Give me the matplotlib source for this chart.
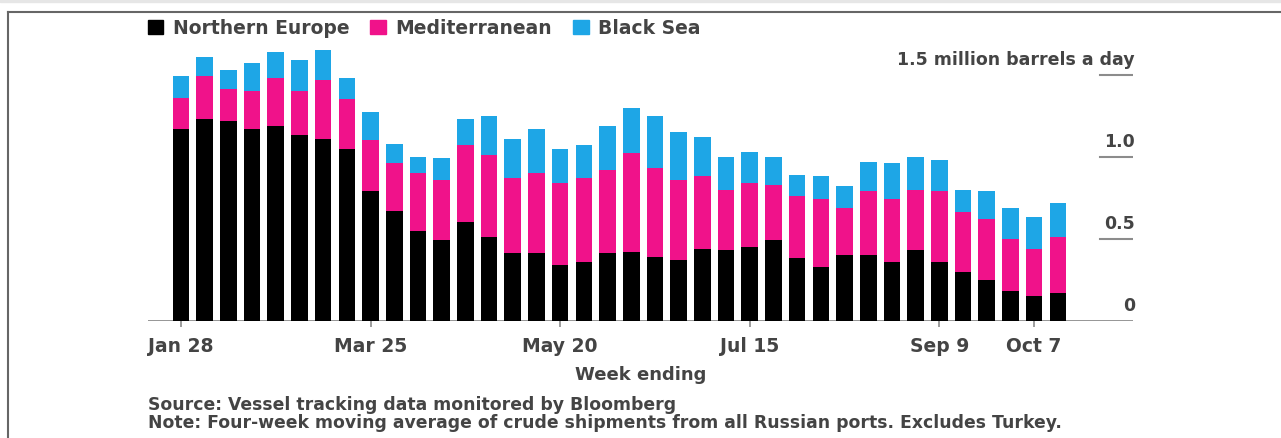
import matplotlib
matplotlib.use("Agg")
import matplotlib.pyplot as plt
from matplotlib.patches import Patch, Rectangle
from matplotlib.lines import Line2D

# week-ending dates (2022), one bar per week
weeks = ["Jan 28", "Feb 4", "Feb 11", "Feb 18", "Feb 25", "Mar 4", "Mar 11", "Mar 18",
         "Mar 25", "Apr 1", "Apr 8", "Apr 15", "Apr 22", "Apr 29", "May 6", "May 13",
         "May 20", "May 27", "Jun 3", "Jun 10", "Jun 17", "Jun 24", "Jul 1", "Jul 8",
         "Jul 15", "Jul 22", "Jul 29", "Aug 5", "Aug 12", "Aug 19", "Aug 26", "Sep 2",
         "Sep 9", "Sep 16", "Sep 23", "Sep 30", "Oct 7", "Oct 14"]

# million barrels a day, four-week moving average
northern_europe = [1.17, 1.23, 1.22, 1.17, 1.19, 1.13, 1.11, 1.05,
                   0.79, 0.67, 0.55, 0.49, 0.60, 0.51, 0.41, 0.41,
                   0.34, 0.36, 0.41, 0.42, 0.39, 0.37, 0.44, 0.43,
                   0.45, 0.49, 0.38, 0.33, 0.40, 0.40, 0.36, 0.43,
                   0.36, 0.30, 0.25, 0.18, 0.15, 0.17]
mediterranean = [0.19, 0.26, 0.19, 0.23, 0.29, 0.27, 0.36, 0.30,
                 0.31, 0.29, 0.35, 0.37, 0.47, 0.50, 0.46, 0.49,
                 0.50, 0.51, 0.51, 0.60, 0.54, 0.49, 0.44, 0.37,
                 0.39, 0.34, 0.38, 0.41, 0.29, 0.39, 0.38, 0.37,
                 0.43, 0.36, 0.37, 0.32, 0.29, 0.34]
black_sea = [0.13, 0.12, 0.12, 0.17, 0.16, 0.19, 0.18, 0.13,
             0.17, 0.12, 0.10, 0.13, 0.16, 0.24, 0.24, 0.27,
             0.21, 0.20, 0.27, 0.28, 0.32, 0.29, 0.24, 0.20,
             0.19, 0.17, 0.13, 0.14, 0.13, 0.18, 0.22, 0.20,
             0.19, 0.14, 0.17, 0.19, 0.19, 0.21]

tick_labels = ["Jan 28", "Mar 25", "May 20", "Jul 15", "Sep 9", "Oct 7"]
y_ticks = [0, 0.5, 1.0, 1.5]
y_labels = ["0", "0.5", "1.0", "1.5 million barrels a day"]

c_north = "#000000"
c_med = "#f0128a"
c_black = "#1ea6e6"
txt = "#444444"
grey = "#8c8c8c"

W, H = 1281, 439
plt.rcParams["font.family"] = ["DejaVu Sans"]
plt.rcParams["font.weight"] = "bold"
fig = plt.figure(figsize=(W / 100, H / 100), dpi=100)

# axes placed in pixel terms
left, right, base, top = 148, 1133, 321.7, 34.7
ax = fig.add_axes([left / W, (H - base) / H, (right - left) / W, (base - top) / H])

x = list(range(len(weeks)))
bottom2 = [a + b for a, b in zip(northern_europe, mediterranean)]
ax.bar(x, northern_europe, width=0.7, color=c_north, label="Northern Europe")
ax.bar(x, mediterranean, width=0.7, bottom=northern_europe, color=c_med, label="Mediterranean")
ax.bar(x, black_sea, width=0.7, bottom=bottom2, color=c_black, label="Black Sea")

ax.set_xlim(-1.39, 40.17)
ax.set_ylim(0, 1.75)

for s in ["top", "right", "left", "bottom"]:
    ax.spines[s].set_visible(False)
ax.axhline(0, color=grey, lw=2, zorder=0)

ax.set_yticks([])
ax.set_xticks([weeks.index(t) for t in tick_labels])
ax.set_xticklabels(tick_labels, fontsize=13.5, color=txt, fontweight="bold")
ax.tick_params(axis="x", length=4, width=1.2, color=grey, pad=7)

for v, lab in zip(y_ticks, y_labels):
    if v > 0:
        ax.axhline(v, xmin=0.9665, xmax=1.0, color=grey, lw=1.5)
    ax.annotate(lab, xy=(1.002, v), xycoords=("axes fraction", "data"),
                xytext=(0, 11.5), textcoords="offset points",
                ha="right", va="center", fontsize=12.5, color=txt, fontweight="bold")

ax.set_xlabel("Week ending", fontsize=13, color=txt, labelpad=7, fontweight="bold")

handles = [Patch(color=c_north), Patch(color=c_med), Patch(color=c_black)]
fig.legend(handles, ["Northern Europe", "Mediterranean", "Black Sea"],
           loc="center left", bbox_to_anchor=(140 / W, 1 - 29 / H), ncol=3,
           frameon=False, prop={"size": 13.5, "weight": "bold"},
           handlelength=0.85, handleheight=0.75,
           handletextpad=0.5, columnspacing=1.1, labelcolor=txt, borderaxespad=0)

fig.text(left / W, 1 - 405 / H, "Source: Vessel tracking data monitored by Bloomberg",
         fontsize=12.4, color=txt, va="center", fontweight="bold")
fig.text(left / W, 1 - 423 / H,
         "Note: Four-week moving average of crude shipments from all Russian ports. Excludes Turkey.",
         fontsize=12.4, color=txt, va="center", fontweight="bold")

# page frame
fig.patches.append(Rectangle((0, 1 - 3 / H), 1, 3 / H, transform=fig.transFigure,
                             color="#e6e6e6", zorder=0))
fig.add_artist(Line2D([8 / W, 1], [1 - 12.5 / H, 1 - 12.5 / H], color="#666666", lw=1.5))
fig.add_artist(Line2D([8 / W, 8 / W], [0, 1 - 12.5 / H], color="#666666", lw=1.5))

fig.savefig("out.png", dpi=100)
